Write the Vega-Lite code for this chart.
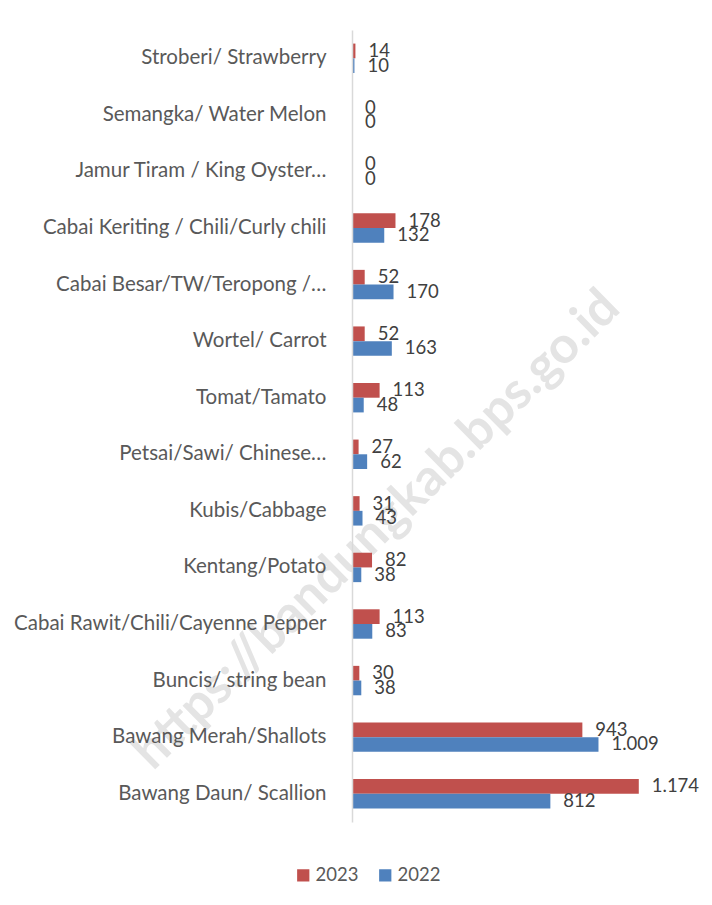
{
  "$schema": "https://vega.github.io/schema/vega-lite/v6.json",
  "width": 342,
  "height": 792,
  "autosize": {"type": "none"},
  "padding": {"left": 352, "top": 30, "right": 18, "bottom": 83},
  "background": "white",
  "config": {
    "view": {"stroke": null},
    "font": "Lato"
  },
  "datasets": {
    "main": [
      {"cat": "Stroberi/ Strawberry", "year": "2023", "value": 14, "label": "14"},
      {"cat": "Stroberi/ Strawberry", "year": "2022", "value": 10, "label": "10"},
      {"cat": "Semangka/ Water Melon", "year": "2023", "value": 0, "label": "0"},
      {"cat": "Semangka/ Water Melon", "year": "2022", "value": 0, "label": "0"},
      {"cat": "Jamur Tiram / King Oyster…", "year": "2023", "value": 0, "label": "0"},
      {"cat": "Jamur Tiram / King Oyster…", "year": "2022", "value": 0, "label": "0"},
      {"cat": "Cabai Keriting / Chili/Curly chili", "year": "2023", "value": 178, "label": "178"},
      {"cat": "Cabai Keriting / Chili/Curly chili", "year": "2022", "value": 132, "label": "132"},
      {"cat": "Cabai Besar/TW/Teropong /…", "year": "2023", "value": 52, "label": "52"},
      {"cat": "Cabai Besar/TW/Teropong /…", "year": "2022", "value": 170, "label": "170"},
      {"cat": "Wortel/ Carrot", "year": "2023", "value": 52, "label": "52"},
      {"cat": "Wortel/ Carrot", "year": "2022", "value": 163, "label": "163"},
      {"cat": "Tomat/Tamato", "year": "2023", "value": 113, "label": "113"},
      {"cat": "Tomat/Tamato", "year": "2022", "value": 48, "label": "48"},
      {"cat": "Petsai/Sawi/ Chinese…", "year": "2023", "value": 27, "label": "27"},
      {"cat": "Petsai/Sawi/ Chinese…", "year": "2022", "value": 62, "label": "62"},
      {"cat": "Kubis/Cabbage", "year": "2023", "value": 31, "label": "31"},
      {"cat": "Kubis/Cabbage", "year": "2022", "value": 43, "label": "43"},
      {"cat": "Kentang/Potato", "year": "2023", "value": 82, "label": "82"},
      {"cat": "Kentang/Potato", "year": "2022", "value": 38, "label": "38"},
      {"cat": "Cabai Rawit/Chili/Cayenne Pepper", "year": "2023", "value": 113, "label": "113"},
      {"cat": "Cabai Rawit/Chili/Cayenne Pepper", "year": "2022", "value": 83, "label": "83"},
      {"cat": "Buncis/ string bean", "year": "2023", "value": 30, "label": "30"},
      {"cat": "Buncis/ string bean", "year": "2022", "value": 38, "label": "38"},
      {"cat": "Bawang Merah/Shallots", "year": "2023", "value": 943, "label": "943"},
      {"cat": "Bawang Merah/Shallots", "year": "2022", "value": 1009, "label": "1.009"},
      {"cat": "Bawang Daun/ Scallion", "year": "2023", "value": 1174, "label": "1.174"},
      {"cat": "Bawang Daun/ Scallion", "year": "2022", "value": 812, "label": "812"}
    ]
  },
  "data": {"name": "main"},
  "encoding": {
    "y": {"field": "cat", "type": "nominal", "sort": null,
          "scale": {"paddingInner": 0.48, "paddingOuter": 0.24,
                    "domain": ["Stroberi/ Strawberry", "Semangka/ Water Melon", "Jamur Tiram / King Oyster…", "Cabai Keriting / Chili/Curly chili", "Cabai Besar/TW/Teropong /…", "Wortel/ Carrot", "Tomat/Tamato", "Petsai/Sawi/ Chinese…", "Kubis/Cabbage", "Kentang/Potato", "Cabai Rawit/Chili/Cayenne Pepper", "Buncis/ string bean", "Bawang Merah/Shallots", "Bawang Daun/ Scallion"]},
          "axis": {"title": null, "ticks": false, "domainColor": "#d9d9d9", "domainWidth": 1.5, "labelFont": "Lato", "labelFontSize": 20.5, "labelColor": "#595959", "labelPadding": 26, "labelLimit": 400, "zindex": 1}},
    "yOffset": {"field": "year", "type": "nominal", "sort": ["2023", "2022"], "scale": {"domain": ["2023", "2022"]}},
    "x": {"field": "value", "type": "quantitative", "scale": {"domain": [0, 1400]}, "axis": null}
  },
  "layer": [
    {
      "data": {"values": [{"cat": "Kubis/Cabbage", "year": "2022", "value": 54, "wm": "https://bandungkab.bps.go.id"}]},
      "mark": {"type": "text", "angle": -44.5, "fontSize": 51, "fontWeight": "bold", "font": "Lato", "color": "#e4e4e4", "align": "center", "baseline": "middle", "dy": 17},
      "encoding": {
        "text": {"field": "wm"}
      }
    },
    {
      "mark": {"type": "bar"},
      "encoding": {
        "color": {"field": "year", "type": "nominal", "sort": ["2023", "2022"],
                  "scale": {"domain": ["2023", "2022"], "range": ["#C0504D", "#4F81BD"]},
                  "legend": {"title": null, "orient": "none", "legendX": -58, "legendY": 836, "direction": "horizontal", "symbolType": "square", "symbolSize": 150, "symbolStrokeWidth": 0, "labelFont": "Lato", "labelFontSize": 18.5, "labelColor": "#595959", "labelOffset": 3, "columnPadding": 17}}
      }
    },
    {
      "mark": {"type": "text", "align": "left", "baseline": "middle", "dx": 13, "fontSize": 18.5, "font": "Lato", "color": "#404040"},
      "encoding": {
        "text": {"field": "label"}
      }
    }
  ]
}
